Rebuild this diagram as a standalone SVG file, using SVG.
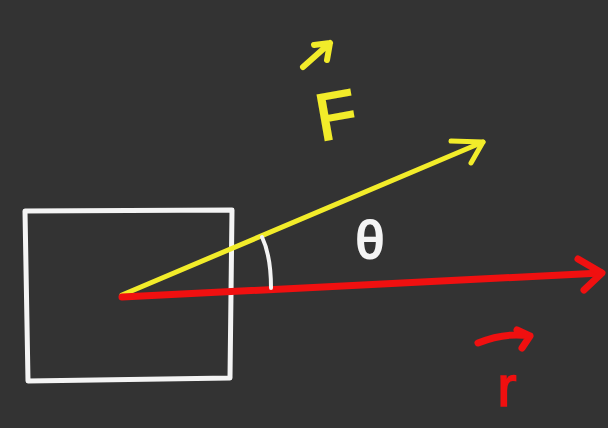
<svg xmlns="http://www.w3.org/2000/svg" width="608" height="428" viewBox="0 0 608 428">
<style>
.w{fill:none;stroke:#f4f4f4;stroke-width:5;stroke-linecap:round;stroke-linejoin:round}
.y{fill:none;stroke:#f2ec2a;stroke-width:5;stroke-linecap:round;stroke-linejoin:round}
.r{fill:none;stroke:#f01010;stroke-width:7;stroke-linecap:round;stroke-linejoin:round}
.lbl{font-family:"Liberation Sans",Arial,sans-serif}
</style>
<rect x="0" y="0" width="608" height="428" fill="#333333"/>
<g id="box">
<path class="w" d="M25 211 L232 210 L230 378 L28 381 Z"/>
</g>
<g id="connectors">
<g id="force-vector">
<path class="y" d="M122 295 L483 142"/>
<path class="y" d="M451 141 L483 142 L471 163"/>
</g>
<g id="r-vector">
<path class="r" d="M122 297 L601 273"/>
<path class="r" d="M578 259 L602 273 L584 290"/>
</g>
<path id="angle-arc" class="w" style="stroke-width:4" d="M262 237 Q271 256 271 288"/>
</g>
<g id="label-F">
<path class="y" style="stroke-width:6" d="M303 67 L330 43 M314 45 L330 43 L327 60"/>
<text class="lbl" x="315" y="138" font-size="66" fill="#f2ec2a" stroke="#f2ec2a" stroke-width="2" transform="rotate(-10 335 110)">F</text>
</g>
<g id="label-theta">
<text class="lbl" x="370" y="258" font-size="52" fill="#f4f4f4" stroke="#f4f4f4" stroke-width="2" text-anchor="middle">θ</text>
</g>
<g id="label-r">
<path class="r" d="M478 343 Q505 332 530 336 M517 330 L530 336 L522 348"/>
<text class="lbl" x="507" y="406" font-size="58" fill="#f01010" stroke="#f01010" stroke-width="1.5" text-anchor="middle">r</text>
</g>
</svg>
